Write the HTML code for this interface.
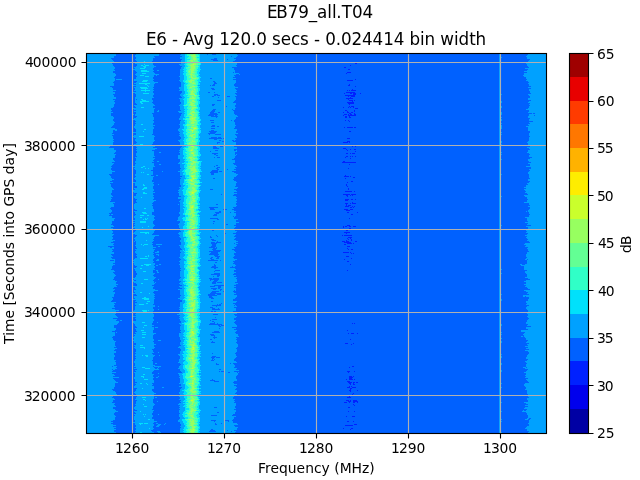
<!DOCTYPE html>
<html lang="en">
<head>
<meta charset="utf-8">
<title>EB79_all.T04 - E6 spectrogram</title>
<style>
html,body{margin:0;padding:0;background:#fff;overflow:hidden}
body{width:640px;height:480px}
svg{display:block;position:absolute;left:0;top:0}
text{white-space:pre}
</style>
</head>
<body>
<svg width="640" height="480" viewBox="0 0 640 480" role="img" aria-label="E6 spectrogram of EB79_all.T04">
<rect width="640" height="480" fill="#fff"/>
<g shape-rendering="crispEdges" stroke-width="1" transform="translate(0,0.5)">
<rect x="87" y="53.5" width="459" height="379" fill="#0061ff"/>
<path stroke="#0021ff" d="M355 63h2M350 65h1M344 67h2M348 69h2M347 72h4M346 73h1M355 79h1M347 80h6M349 84h1M348 85h2M355 86h1M352 89h1M347 90h1M349 90h1M351 90h5M346 92h9M344 93h1M350 93h2M353 93h3M360 93h1M353 94h3M345 95h10M348 96h1M351 96h4M350 97h1M346 98h7M348 99h1M349 100h4M354 100h1M352 101h1M347 102h7M348 103h6M349 104h1M349 106h1M351 106h3M343 107h1M348 107h1M350 107h1M353 107h1M355 108h3M345 110h2M354 110h1M347 111h1M354 111h1M343 112h1M347 112h2M351 112h2M349 113h2M354 113h1M344 114h3M348 114h1M350 114h2M354 114h2M343 115h1M348 115h8M345 116h2M349 116h1M345 117h2M349 117h2M345 120h1M348 120h1M349 121h1M344 127h1M347 127h6M354 127h2M349 131h2M347 138h3M347 141h3M343 142h5M349 142h1M352 145h1M352 146h1M355 146h1M343 148h3M346 149h1M350 149h1M354 149h2M347 150h1M355 151h1M346 153h2M350 153h1M352 153h3M346 156h2M350 156h1M352 156h1M355 156h1M345 157h1M350 158h1M343 161h2M342 162h14M349 164h1M348 168h1M345 175h1M344 176h5M350 176h1M353 177h2M345 178h1M351 181h2M347 182h1M346 184h1M346 185h1M347 186h1M348 188h1M348 189h1M345 191h7M354 191h1M343 194h7M351 194h5M346 195h2M350 195h1M352 195h1M347 196h1M345 199h4M351 199h2M355 199h1M345 200h3M352 202h1M345 203h3M350 203h1M352 203h4M346 204h1M346 205h1M348 205h3M345 206h4M352 206h1M354 206h1M350 207h2M353 207h1M344 209h4M350 209h3M346 210h4M347 212h2M357 212h1M351 214h2M349 218h1M347 225h3M343 226h1M345 226h2M349 226h2M353 226h3M343 227h1M349 228h2M345 229h1M347 229h2M350 229h1M346 230h2M344 232h6M346 233h1M342 235h1M344 235h8M348 237h4M347 238h1M350 238h1M348 239h1M351 239h1M346 240h1M351 240h1M342 241h3M346 241h3M355 241h2M344 242h7M347 243h5M353 243h1M344 244h2M347 246h3M347 248h1M348 249h1M351 249h2M343 252h6M350 252h1M351 253h1M353 253h1M346 256h3M351 258h1M344 259h1M347 261h2M350 264h1M347 270h1M352 323h1M354 323h1M347 330h1M348 333h1M351 333h3M357 333h1M350 339h1M345 343h3M353 343h1M351 344h1M352 366h2M349 367h1M347 371h3M354 371h1M348 372h1M349 376h3M353 376h1M349 377h4M349 378h3M346 379h1M349 379h4M354 379h1M347 381h3M348 382h4M353 382h2M356 382h2M349 383h2M353 383h1M350 384h1M353 384h2M349 386h1M351 386h1M347 387h3M352 387h4M350 388h2M350 389h1M349 390h2M357 390h1M350 391h1M353 393h1M352 394h1M348 395h1M349 396h1M347 397h4M346 400h3M350 400h1M353 400h4M348 401h3M353 401h5M344 402h3M349 402h1M353 402h2M357 402h1M353 404h1M354 405h1M348 407h2M348 411h1M354 411h1M346 416h1M352 416h3M347 421h2M353 421h1M354 424h3M345 425h8M343 428h1M351 428h2M350 429h1"/>
<path stroke="#00a1ff" d="M87 54h29M136 54h23M181 54h26M208 54h4M216 54h21M528 54h18M87 55h29M135 55h24M180 55h58M527 55h19M87 56h27M135 56h19M182 56h49M232 56h5M526 56h20M87 57h27M136 57h19M180 57h56M527 57h19M87 58h24M136 58h17M180 58h34M217 58h17M527 58h19M87 59h25M135 59h18M182 59h29M217 59h10M228 59h8M530 59h16M87 60h26M136 60h17M181 60h32M218 60h17M529 60h17M87 61h27M137 61h15M181 61h52M528 61h18M87 62h25M135 62h19M181 62h33M216 62h21M526 62h1M528 62h18M87 63h25M135 63h18M181 63h56M526 63h20M87 64h26M137 64h16M179 64h58M527 64h19M87 65h26M137 65h17M180 65h56M527 65h19M87 66h27M136 66h20M182 66h55M528 66h18M87 67h28M134 67h20M181 67h51M529 67h17M87 68h28M135 68h18M181 68h53M525 68h21M87 69h27M133 69h20M180 69h54M528 69h18M87 70h28M135 70h19M157 70h2M180 70h55M527 70h19M87 71h26M136 71h17M180 71h55M524 71h22M87 72h26M137 72h17M180 72h53M234 72h1M527 72h19M87 73h28M136 73h19M180 73h59M524 73h22M87 74h29M135 74h24M180 74h56M239 74h1M524 74h22M87 75h29M136 75h18M156 75h1M180 75h54M523 75h23M87 76h28M137 76h17M179 76h56M524 76h22M87 77h27M136 77h17M180 77h53M526 77h20M87 78h28M136 78h17M180 78h30M212 78h24M526 78h20M87 79h28M116 79h6M134 79h20M180 79h53M527 79h19M87 80h28M134 80h19M179 80h57M526 80h20M87 81h27M137 81h17M180 81h33M215 81h21M528 81h18M87 82h26M136 82h22M181 82h33M216 82h20M529 82h17M87 83h27M134 83h21M181 83h33M217 83h18M528 83h18M87 84h27M136 84h18M181 84h32M215 84h19M529 84h17M87 85h27M133 85h21M181 85h29M211 85h1M215 85h19M529 85h17M87 86h23M136 86h18M181 86h54M531 86h15M87 87h25M134 87h19M179 87h59M528 87h18M87 88h26M135 88h19M179 88h32M214 88h21M531 88h15M87 89h26M135 89h18M180 89h32M215 89h21M529 89h17M87 90h29M134 90h20M179 90h58M529 90h17M87 91h26M136 91h17M182 91h54M530 91h16M87 92h28M133 92h20M182 92h26M210 92h4M215 92h22M530 92h16M87 93h28M135 93h19M181 93h54M531 93h15M87 94h26M136 94h18M180 94h34M218 94h18M528 94h18M87 95h27M136 95h17M180 95h34M216 95h1M220 95h17M529 95h17M87 96h27M136 96h17M181 96h31M214 96h13M230 96h5M530 96h16M87 97h29M135 97h19M182 97h36M219 97h17M530 97h16M87 98h29M135 98h17M179 98h57M528 98h18M87 99h26M135 99h1M137 99h15M180 99h56M528 99h18M87 100h28M135 100h18M180 100h37M221 100h14M531 100h15M87 101h27M135 101h18M180 101h54M529 101h17M87 102h28M135 102h17M181 102h52M528 102h18M87 103h28M136 103h17M181 103h55M530 103h16M87 104h27M137 104h17M180 104h32M215 104h21M529 104h17M87 105h27M134 105h21M179 105h33M214 105h21M530 105h16M87 106h27M135 106h18M180 106h46M227 106h8M529 106h17M87 107h26M136 107h17M180 107h56M529 107h17M87 108h24M133 108h22M180 108h55M528 108h18M87 109h24M134 109h20M180 109h33M216 109h16M233 109h2M526 109h20M87 110h25M136 110h18M158 110h1M181 110h31M215 110h18M529 110h17M87 111h24M134 111h20M157 111h2M178 111h33M215 111h19M529 111h17M87 112h26M136 112h18M179 112h31M214 112h4M220 112h14M528 112h18M87 113h24M136 113h16M182 113h28M217 113h17M532 113h1M535 113h11M87 114h24M133 114h1M135 114h18M181 114h28M218 114h17M529 114h17M87 115h24M135 115h18M181 115h27M214 115h1M217 115h20M529 115h5M535 115h11M87 116h26M137 116h16M180 116h31M218 116h20M528 116h18M87 117h27M136 117h18M180 117h36M217 117h19M528 117h18M87 118h27M134 118h20M179 118h57M530 118h16M87 119h26M133 119h21M179 119h56M529 119h17M87 120h26M135 120h18M181 120h29M214 120h17M232 120h2M529 120h17M87 121h27M136 121h18M180 121h54M533 121h13M87 122h28M135 122h19M180 122h31M214 122h21M529 122h17M87 123h27M136 123h17M180 123h55M530 123h16M87 124h27M135 124h18M179 124h56M528 124h18M87 125h26M135 125h20M180 125h32M215 125h21M529 125h17M87 126h25M134 126h19M180 126h31M215 126h2M219 126h16M526 126h20M87 127h24M134 127h20M180 127h55M528 127h18M87 128h28M135 128h19M179 128h32M215 128h19M528 128h18M87 129h30M136 129h17M178 129h59M528 129h18M87 130h26M115 130h2M136 130h17M178 130h33M214 130h23M528 130h18M87 131h26M136 131h17M179 131h30M217 131h19M530 131h16M87 132h26M132 132h21M180 132h30M216 132h20M530 132h16M87 133h25M136 133h17M179 133h29M215 133h23M529 133h17M87 134h27M136 134h16M180 134h29M210 134h5M221 134h14M529 134h17M87 135h25M134 135h20M179 135h57M529 135h17M87 136h26M133 136h22M180 136h57M530 136h16M87 137h26M134 137h20M181 137h30M217 137h1M221 137h16M529 137h17M87 138h26M136 138h18M181 138h28M222 138h1M224 138h11M529 138h17M87 139h27M135 139h19M180 139h34M217 139h19M529 139h17M87 140h26M135 140h20M178 140h41M221 140h11M234 140h1M529 140h17M87 141h27M136 141h18M179 141h43M225 141h8M528 141h18M87 142h26M137 142h16M180 142h37M220 142h16M527 142h19M87 143h26M136 143h17M180 143h37M218 143h18M528 143h18M87 144h26M134 144h18M180 144h56M528 144h18M87 145h25M135 145h19M182 145h31M217 145h5M223 145h12M529 145h17M87 146h23M136 146h19M182 146h31M216 146h4M223 146h11M530 146h16M87 147h22M137 147h16M181 147h32M217 147h20M527 147h19M87 148h27M136 148h21M180 148h33M219 148h18M529 148h17M87 149h27M137 149h18M180 149h54M530 149h16M87 150h29M136 150h16M179 150h36M218 150h16M236 150h1M528 150h18M87 151h29M137 151h17M180 151h30M211 151h26M528 151h18M87 152h28M137 152h17M159 152h2M179 152h56M527 152h19M87 153h27M136 153h18M180 153h32M218 153h17M529 153h17M87 154h29M136 154h18M180 154h34M216 154h19M236 154h1M530 154h16M87 155h28M136 155h18M178 155h38M218 155h18M529 155h17M87 156h28M137 156h18M178 156h57M529 156h17M87 157h28M135 157h18M178 157h36M215 157h2M220 157h15M532 157h14M87 158h26M136 158h19M178 158h56M530 158h16M87 159h26M136 159h18M180 159h52M528 159h18M87 160h27M136 160h17M180 160h55M528 160h18M87 161h28M135 161h19M157 161h2M180 161h55M529 161h17M87 162h25M135 162h17M179 162h56M531 162h15M87 163h27M136 163h18M178 163h55M528 163h18M87 164h26M135 164h19M159 164h2M180 164h54M530 164h16M87 165h25M135 165h19M180 165h36M218 165h18M530 165h16M87 166h24M132 166h23M180 166h34M215 166h22M526 166h20M87 167h25M135 167h18M180 167h37M220 167h15M531 167h15M87 168h24M134 168h19M181 168h35M218 168h18M531 168h15M87 169h24M135 169h18M180 169h37M219 169h8M228 169h6M529 169h17M87 170h25M136 170h15M180 170h32M218 170h18M530 170h16M87 171h28M136 171h17M162 171h1M178 171h33M218 171h1M222 171h10M529 171h17M87 172h25M136 172h17M180 172h30M218 172h16M528 172h18M87 173h25M136 173h17M180 173h31M214 173h22M528 173h18M87 174h22M135 174h18M180 174h31M214 174h24M529 174h17M87 175h23M135 175h16M156 175h2M180 175h57M529 175h17M87 176h24M136 176h18M182 176h54M529 176h17M87 177h24M135 177h18M180 177h54M529 177h17M87 178h25M134 178h19M181 178h32M215 178h19M530 178h16M87 179h27M135 179h18M180 179h53M528 179h18M87 180h25M136 180h16M180 180h54M528 180h18M87 181h23M136 181h16M180 181h56M530 181h16M87 182h26M133 182h21M180 182h57M529 182h17M87 183h23M135 183h18M180 183h56M527 183h19M87 184h24M135 184h19M158 184h1M180 184h56M528 184h18M87 185h24M135 185h19M181 185h55M526 185h20M87 186h24M137 186h16M181 186h54M526 186h20M87 187h25M137 187h16M179 187h59M524 187h22M87 188h26M134 188h19M180 188h57M526 188h20M87 189h27M135 189h19M179 189h31M213 189h21M524 189h22M87 190h25M133 190h21M178 190h58M525 190h21M87 191h25M133 191h20M179 191h58M526 191h20M87 192h25M134 192h21M178 192h56M525 192h21M87 193h24M137 193h16M179 193h58M527 193h19M87 194h24M136 194h17M179 194h42M222 194h12M528 194h18M87 195h25M136 195h18M179 195h54M524 195h22M87 196h26M134 196h19M181 196h55M525 196h21M87 197h24M134 197h20M178 197h59M527 197h19M87 198h25M135 198h19M178 198h58M527 198h19M87 199h24M137 199h16M181 199h56M528 199h18M87 200h24M136 200h20M180 200h57M527 200h19M87 201h23M136 201h18M179 201h57M527 201h19M87 202h28M137 202h16M180 202h57M524 202h22M87 203h26M135 203h17M180 203h56M529 203h17M87 204h27M134 204h19M178 204h1M180 204h36M218 204h18M529 204h17M87 205h27M134 205h18M180 205h57M530 205h16M87 206h27M134 206h19M180 206h56M528 206h18M87 207h24M134 207h19M180 207h29M218 207h15M530 207h16M87 208h23M134 208h19M180 208h30M214 208h20M530 208h16M87 209h24M135 209h19M180 209h30M215 209h8M227 209h5M529 209h17M87 210h25M137 210h17M180 210h54M528 210h18M87 211h25M134 211h20M180 211h39M221 211h15M526 211h1M528 211h18M87 212h24M135 212h17M179 212h36M221 212h9M231 212h3M529 212h17M87 213h22M135 213h17M179 213h37M219 213h17M529 213h17M87 214h23M111 214h2M136 214h16M180 214h34M217 214h19M530 214h16M87 215h22M135 215h19M180 215h33M217 215h19M529 215h17M87 216h25M134 216h21M179 216h54M234 216h1M529 216h17M87 217h25M134 217h20M178 217h56M525 217h21M87 218h28M135 218h19M178 218h32M218 218h16M527 218h19M87 219h27M135 219h20M178 219h39M219 219h19M527 219h19M87 220h27M133 220h21M177 220h59M527 220h19M87 221h25M135 221h18M180 221h33M215 221h21M528 221h18M87 222h25M133 222h20M180 222h59M525 222h21M87 223h25M135 223h18M179 223h34M214 223h22M528 223h18M87 224h24M134 224h20M178 224h48M228 224h8M527 224h19M87 225h26M135 225h20M179 225h55M531 225h15M87 226h27M134 226h20M179 226h57M526 226h20M87 227h24M132 227h21M179 227h56M528 227h18M87 228h26M135 228h18M180 228h54M528 228h18M87 229h26M134 229h21M157 229h4M180 229h57M527 229h19M87 230h25M136 230h19M180 230h32M214 230h21M526 230h20M87 231h26M135 231h19M181 231h56M527 231h19M87 232h26M134 232h20M179 232h57M526 232h20M87 233h25M133 233h20M178 233h47M226 233h7M528 233h18M87 234h27M135 234h17M179 234h57M527 234h19M87 235h26M137 235h22M180 235h36M217 235h18M525 235h21M87 236h25M136 236h19M179 236h31M211 236h6M218 236h16M527 236h19M87 237h26M135 237h19M180 237h30M212 237h24M526 237h20M87 238h26M134 238h20M181 238h54M527 238h19M87 239h25M135 239h18M181 239h30M214 239h20M528 239h18M87 240h28M135 240h19M180 240h32M216 240h20M527 240h19M87 241h26M134 241h1M136 241h17M180 241h37M218 241h20M529 241h17M87 242h24M136 242h16M181 242h30M215 242h1M221 242h15M530 242h16M87 243h27M136 243h17M181 243h30M217 243h17M235 243h3M525 243h21M87 244h26M136 244h16M156 244h6M181 244h31M216 244h20M524 244h22M87 245h27M135 245h18M179 245h33M216 245h21M526 245h20M87 246h21M136 246h17M158 246h2M180 246h31M216 246h20M525 246h21M87 247h23M112 247h2M136 247h20M180 247h29M215 247h1M217 247h17M528 247h18M87 248h27M137 248h16M181 248h32M217 248h18M527 248h19M87 249h25M135 249h20M182 249h30M216 249h16M528 249h18M87 250h26M136 250h18M180 250h33M221 250h13M528 250h18M87 251h25M135 251h19M157 251h2M180 251h29M220 251h15M529 251h17M87 252h27M135 252h18M155 252h4M181 252h30M218 252h18M527 252h19M87 253h27M136 253h18M180 253h30M218 253h16M527 253h19M87 254h24M137 254h16M156 254h3M180 254h29M219 254h15M526 254h20M87 255h25M136 255h18M158 255h1M180 255h34M218 255h17M526 255h20M87 256h26M137 256h17M180 256h35M220 256h14M526 256h20M87 257h24M137 257h18M179 257h32M213 257h4M219 257h14M527 257h19M87 258h25M135 258h19M180 258h30M212 258h4M219 258h15M526 258h20M87 259h28M134 259h19M157 259h2M181 259h30M214 259h23M525 259h2M528 259h18M87 260h23M114 260h1M133 260h20M156 260h3M180 260h28M218 260h2M221 260h14M527 260h19M87 261h28M134 261h20M179 261h54M527 261h19M87 262h28M133 262h20M180 262h35M217 262h17M527 262h19M87 263h26M134 263h21M180 263h53M527 263h19M87 264h28M134 264h21M159 264h2M179 264h35M215 264h20M520 264h2M525 264h21M87 265h26M135 265h19M156 265h2M180 265h34M216 265h20M521 265h25M87 266h25M137 266h18M180 266h32M216 266h16M233 266h2M524 266h22M87 267h25M136 267h19M180 267h31M218 267h12M524 267h22M87 268h25M134 268h20M181 268h33M216 268h19M524 268h22M87 269h24M135 269h20M180 269h56M524 269h22M87 270h27M135 270h18M156 270h2M181 270h34M220 270h14M527 270h19M87 271h28M136 271h17M157 271h1M180 271h34M215 271h19M525 271h21M87 272h26M136 272h17M157 272h2M180 272h56M525 272h21M87 273h27M137 273h18M180 273h34M220 273h14M526 273h20M87 274h28M137 274h17M180 274h31M220 274h13M527 274h19M87 275h29M136 275h17M180 275h37M220 275h16M527 275h19M87 276h28M136 276h18M180 276h33M214 276h3M219 276h15M527 276h19M87 277h27M135 277h21M181 277h56M525 277h21M87 278h27M133 278h22M180 278h29M212 278h1M219 278h17M528 278h18M87 279h26M134 279h20M158 279h1M179 279h31M219 279h18M530 279h16M87 280h28M133 280h1M136 280h17M179 280h31M211 280h3M218 280h19M526 280h20M87 281h30M133 281h21M181 281h32M217 281h20M524 281h22M87 282h29M134 282h20M155 282h1M180 282h32M216 282h1M222 282h13M526 282h20M87 283h29M136 283h19M179 283h33M216 283h22M526 283h20M87 284h31M137 284h17M180 284h56M524 284h22M87 285h29M137 285h15M182 285h32M224 285h10M526 285h20M87 286h30M133 286h21M179 286h31M215 286h3M221 286h15M525 286h21M87 287h27M135 287h18M180 287h38M221 287h13M527 287h19M87 288h26M135 288h18M182 288h29M217 288h1M220 288h16M528 288h18M87 289h28M136 289h19M178 289h35M216 289h4M222 289h14M530 289h16M87 290h27M134 290h24M180 290h40M221 290h13M235 290h1M524 290h22M87 291h26M134 291h20M180 291h32M219 291h4M224 291h9M526 291h20M87 292h28M135 292h18M180 292h31M216 292h18M528 292h18M87 293h28M133 293h21M180 293h30M221 293h15M527 293h19M87 294h27M136 294h19M180 294h28M215 294h2M221 294h13M529 294h17M87 295h27M137 295h17M181 295h27M217 295h20M523 295h23M87 296h27M134 296h21M180 296h29M212 296h25M523 296h2M526 296h20M87 297h25M134 297h20M180 297h29M213 297h23M529 297h17M87 298h26M135 298h20M178 298h33M214 298h21M529 298h17M87 299h26M133 299h21M180 299h53M528 299h18M87 300h25M136 300h18M182 300h51M528 300h18M87 301h24M135 301h19M182 301h29M213 301h24M526 301h20M87 302h29M137 302h17M180 302h56M526 302h20M87 303h27M135 303h19M180 303h41M222 303h11M527 303h19M87 304h28M135 304h18M180 304h37M218 304h1M221 304h14M526 304h20M87 305h27M136 305h19M180 305h32M221 305h13M235 305h1M529 305h17M87 306h27M135 306h20M158 306h1M180 306h36M217 306h20M527 306h19M87 307h28M135 307h18M179 307h31M213 307h21M526 307h20M87 308h25M135 308h18M180 308h32M215 308h3M219 308h17M526 308h20M87 309h28M135 309h19M158 309h1M179 309h33M220 309h16M527 309h19M87 310h32M134 310h20M180 310h56M528 310h18M87 311h29M133 311h20M180 311h31M213 311h1M216 311h17M528 311h18M87 312h29M135 312h20M179 312h32M216 312h20M528 312h18M87 313h29M136 313h17M179 313h58M527 313h19M87 314h28M135 314h19M177 314h36M218 314h16M528 314h18M87 315h29M136 315h18M180 315h55M528 315h18M87 316h30M132 316h22M179 316h58M527 316h19M87 317h31M136 317h17M180 317h35M216 317h20M528 317h18M87 318h26M135 318h18M179 318h55M529 318h17M87 319h30M136 319h18M180 319h32M217 319h17M528 319h18M87 320h29M120 320h2M136 320h18M180 320h30M211 320h25M527 320h19M87 321h32M133 321h20M181 321h31M214 321h21M527 321h19M87 322h32M133 322h20M157 322h1M181 322h33M215 322h19M526 322h20M87 323h31M134 323h18M179 323h31M215 323h2M218 323h17M526 323h20M87 324h30M135 324h17M180 324h29M222 324h14M528 324h18M87 325h27M135 325h19M181 325h37M220 325h1M224 325h13M527 325h19M87 326h27M136 326h16M180 326h39M221 326h16M531 326h15M87 327h27M137 327h17M155 327h3M180 327h52M526 327h20M87 328h29M135 328h19M180 328h39M220 328h16M526 328h20M87 329h29M136 329h18M180 329h54M528 329h18M87 330h28M136 330h17M181 330h56M521 330h25M87 331h25M137 331h16M180 331h34M219 331h17M521 331h25M87 332h28M116 332h1M135 332h18M181 332h31M220 332h15M525 332h21M87 333h28M136 333h20M179 333h57M524 333h22M87 334h28M134 334h20M179 334h31M214 334h24M523 334h23M87 335h28M135 335h18M179 335h32M215 335h23M524 335h22M87 336h26M134 336h19M179 336h35M215 336h24M521 336h2M524 336h22M87 337h25M133 337h20M180 337h33M217 337h19M525 337h21M87 338h26M134 338h19M180 338h34M215 338h22M526 338h20M87 339h26M134 339h20M180 339h30M212 339h24M526 339h20M87 340h27M132 340h22M158 340h3M181 340h56M528 340h18M87 341h29M134 341h19M181 341h31M213 341h24M527 341h19M87 342h28M134 342h20M180 342h31M215 342h21M526 342h20M87 343h28M136 343h18M180 343h57M529 343h17M87 344h28M136 344h20M180 344h58M527 344h19M87 345h28M134 345h20M181 345h57M528 345h18M87 346h29M135 346h19M179 346h59M525 346h21M87 347h27M134 347h21M178 347h59M528 347h18M87 348h30M135 348h19M180 348h56M526 348h20M87 349h28M136 349h16M181 349h56M529 349h17M87 350h27M136 350h17M181 350h56M525 350h21M87 351h29M136 351h17M180 351h57M528 351h18M87 352h29M135 352h19M158 352h1M180 352h56M529 352h17M87 353h27M136 353h16M180 353h32M213 353h22M529 353h17M87 354h27M135 354h18M178 354h58M528 354h18M87 355h28M135 355h20M159 355h1M179 355h57M527 355h19M87 356h28M136 356h18M180 356h32M216 356h21M527 356h19M87 357h27M135 357h18M180 357h31M215 357h1M220 357h16M526 357h20M87 358h27M136 358h17M180 358h32M214 358h21M526 358h20M87 359h27M135 359h18M179 359h33M213 359h1M215 359h19M528 359h18M87 360h29M135 360h17M179 360h32M214 360h20M527 360h19M87 361h28M134 361h19M179 361h57M525 361h21M87 362h29M134 362h19M178 362h59M526 362h20M87 363h29M135 363h18M155 363h2M180 363h36M217 363h13M231 363h2M527 363h19M87 364h29M135 364h18M181 364h35M219 364h15M526 364h20M87 365h27M135 365h20M180 365h55M526 365h20M87 366h25M113 366h4M134 366h19M154 366h7M179 366h56M526 366h20M87 367h29M136 367h18M158 367h1M179 367h55M523 367h3M527 367h19M87 368h30M134 368h21M157 368h1M178 368h59M525 368h21M87 369h25M113 369h2M137 369h22M180 369h39M221 369h15M528 369h18M87 370h26M135 370h19M180 370h59M527 370h19M87 371h25M136 371h17M181 371h38M220 371h1M224 371h10M526 371h20M87 372h29M134 372h18M182 372h46M230 372h7M238 372h1M524 372h22M87 373h25M135 373h17M158 373h1M178 373h60M526 373h20M87 374h27M135 374h19M179 374h59M526 374h20M87 375h28M135 375h18M179 375h58M525 375h21M87 376h26M135 376h18M158 376h1M180 376h56M526 376h20M87 377h32M134 377h20M156 377h2M179 377h57M525 377h21M87 378h26M134 378h19M180 378h56M528 378h18M87 379h27M135 379h18M180 379h32M213 379h24M526 379h20M87 380h28M135 380h19M180 380h30M215 380h22M527 380h19M87 381h29M135 381h19M180 381h34M219 381h15M528 381h18M87 382h31M137 382h17M180 382h53M529 382h17M87 383h28M135 383h17M179 383h55M525 383h21M87 384h28M136 384h17M181 384h56M524 384h22M87 385h28M135 385h17M181 385h53M524 385h22M87 386h28M134 386h20M179 386h57M525 386h21M87 387h27M134 387h20M162 387h2M182 387h55M526 387h20M87 388h27M137 388h17M181 388h55M526 388h20M87 389h25M136 389h16M180 389h55M525 389h21M87 390h26M136 390h16M180 390h57M527 390h19M87 391h28M135 391h18M180 391h57M527 391h19M87 392h29M134 392h20M179 392h57M527 392h19M87 393h29M135 393h21M179 393h56M527 393h19M87 394h30M136 394h18M180 394h57M528 394h18M87 395h28M138 395h16M178 395h58M528 395h18M87 396h26M137 396h17M179 396h55M528 396h18M87 397h25M136 397h18M155 397h2M180 397h53M529 397h17M87 398h27M136 398h18M180 398h53M527 398h19M87 399h28M135 399h18M179 399h56M527 399h19M87 400h26M137 400h16M181 400h53M528 400h18M87 401h26M136 401h17M157 401h1M180 401h55M528 401h18M87 402h25M136 402h17M181 402h53M524 402h22M87 403h28M136 403h18M179 403h57M526 403h20M87 404h27M135 404h20M178 404h58M528 404h18M87 405h28M136 405h18M180 405h56M525 405h21M87 406h29M135 406h18M179 406h56M528 406h18M87 407h26M134 407h19M180 407h34M217 407h18M525 407h21M87 408h26M134 408h19M179 408h57M524 408h22M87 409h28M135 409h17M180 409h54M527 409h19M87 410h29M137 410h17M179 410h57M523 410h1M526 410h20M87 411h31M134 411h19M179 411h57M522 411h24M87 412h28M135 412h18M179 412h38M219 412h16M526 412h20M87 413h27M136 413h16M180 413h55M527 413h19M87 414h27M134 414h18M158 414h1M179 414h54M527 414h19M87 415h28M135 415h18M179 415h32M217 415h15M528 415h18M87 416h29M134 416h19M179 416h57M528 416h18M87 417h28M134 417h18M180 417h54M528 417h18M87 418h28M134 418h18M180 418h54M527 418h2M531 418h15M87 419h28M134 419h20M179 419h54M525 419h3M530 419h16M87 420h26M135 420h19M178 420h33M216 420h8M229 420h3M529 420h17M87 421h24M135 421h22M178 421h36M215 421h13M229 421h4M529 421h17M87 422h26M132 422h22M180 422h53M529 422h17M87 423h24M135 423h18M156 423h2M165 423h1M180 423h35M216 423h5M222 423h15M528 423h18M87 424h26M135 424h19M158 424h3M164 424h1M181 424h34M217 424h21M529 424h17M87 425h29M136 425h18M157 425h3M181 425h53M529 425h17M87 426h26M136 426h17M156 426h3M180 426h55M527 426h19M87 427h29M135 427h18M181 427h57M526 427h20M87 428h27M136 428h18M180 428h57M525 428h21M87 429h29M136 429h17M180 429h31M213 429h24M527 429h19M87 430h27M135 430h16M180 430h30M215 430h12M228 430h6M527 430h19M87 431h27M136 431h16M157 431h3M180 431h29M216 431h15M232 431h4M529 431h17M87 432h29M135 432h19M158 432h3M180 432h55M528 432h18"/>
<path stroke="#00e1fb" d="M185 54h15M185 55h15M185 56h15M185 57h15M185 58h15M185 59h15M185 60h15M144 61h1M185 61h15M145 62h1M185 62h16M185 63h16M144 64h1M184 64h17M141 65h2M145 65h4M185 65h15M143 66h3M185 66h15M144 67h2M184 67h16M140 68h5M184 68h16M183 69h18M141 70h6M184 70h16M141 71h8M183 71h17M184 72h15M142 73h4M183 73h16M183 74h17M140 75h4M184 75h15M145 76h4M184 76h16M184 77h17M184 78h16M184 79h16M143 80h5M183 80h17M142 81h5M183 81h18M184 82h15M139 83h11M185 83h15M145 84h2M184 84h16M147 85h1M184 85h14M148 86h1M184 86h16M140 87h7M184 87h15M141 88h7M184 88h16M145 89h1M184 89h16M141 90h9M184 90h16M145 91h1M185 91h14M185 92h14M143 93h6M185 93h14M184 94h15M183 95h17M184 96h15M185 97h15M184 98h16M141 99h2M183 99h17M142 100h4M184 100h15M140 101h9M184 101h16M140 102h2M184 102h16M141 103h2M184 103h16M184 104h15M183 105h16M184 106h15M141 107h3M184 107h16M184 108h16M185 109h15M184 110h15M185 111h14M184 112h16M185 113h14M184 114h16M184 115h15M184 116h16M185 117h15M183 118h17M183 119h18M185 120h16M184 121h16M185 122h15M185 123h16M141 124h2M183 124h18M183 125h17M184 126h16M184 127h16M184 128h17M144 129h2M182 129h18M183 130h18M143 131h1M184 131h17M183 132h18M183 133h17M184 134h15M184 135h15M139 136h5M184 136h16M185 137h15M184 138h15M184 139h15M183 140h17M184 141h16M184 142h15M184 143h15M140 144h3M184 144h15M143 145h1M186 145h14M186 146h13M184 147h16M183 148h17M184 149h16M183 150h17M183 151h16M183 152h17M183 153h17M183 154h18M184 155h17M184 156h16M183 157h16M183 158h17M185 159h14M184 160h14M185 161h17M184 162h17M182 163h19M185 164h16M184 165h17M143 166h2M184 166h16M141 167h2M184 167h17M145 168h1M148 168h1M185 168h15M184 169h17M183 170h18M182 171h20M141 172h1M143 172h1M184 172h16M183 173h17M147 174h2M183 174h17M185 175h16M185 176h16M185 177h15M186 178h15M184 179h15M184 180h16M184 181h16M184 182h18M183 183h17M143 184h1M183 184h16M143 185h2M185 185h16M184 186h16M144 187h3M183 187h16M143 188h4M184 188h16M142 189h2M183 189h16M182 190h19M183 191h17M143 192h2M183 192h17M143 193h4M183 193h16M183 194h16M184 195h15M185 196h14M141 197h1M184 197h16M184 198h16M184 199h16M184 200h16M184 201h15M183 202h16M183 203h17M184 204h16M183 205h15M184 206h16M185 207h14M144 208h2M183 208h17M184 209h14M184 210h15M184 211h17M142 212h4M184 212h16M143 213h4M183 213h15M183 214h16M140 215h4M147 215h2M185 215h15M185 216h14M140 217h2M183 217h17M145 218h1M147 218h1M182 218h18M143 219h1M145 219h2M183 219h17M183 220h17M140 221h6M185 221h15M140 222h6M185 222h15M184 223h15M185 224h15M184 225h16M148 226h1M183 226h16M142 227h1M183 227h17M183 228h16M141 229h6M183 229h18M184 230h15M184 231h15M140 232h9M183 232h18M145 233h2M148 233h1M183 233h17M183 234h17M183 235h15M183 236h17M186 237h14M184 238h17M184 239h16M146 240h1M184 240h15M184 241h16M185 242h15M185 243h16M141 244h1M144 244h4M185 244h15M143 245h1M184 245h16M184 246h15M184 247h16M185 248h14M185 249h15M183 250h1M185 250h15M184 251h16M185 252h15M184 253h16M185 254h15M148 255h1M185 255h15M145 256h2M148 256h1M184 256h16M183 257h16M140 258h8M184 258h17M185 259h15M186 260h14M184 261h16M184 262h15M184 263h16M144 264h7M185 264h15M141 265h2M146 265h3M184 265h17M184 266h16M184 267h14M140 268h2M185 268h13M185 269h14M184 270h16M143 271h3M184 271h15M184 272h15M184 273h15M184 274h15M184 275h16M184 276h15M185 277h15M184 278h15M144 279h4M183 279h18M183 280h17M185 281h16M183 282h17M141 283h2M183 283h16M184 284h15M186 285h14M184 286h15M184 287h14M185 288h14M184 289h15M184 290h16M184 291h16M140 292h2M184 292h15M149 293h1M184 293h16M184 294h17M185 295h14M184 296h16M144 297h2M185 297h14M142 298h7M184 298h16M144 299h5M183 299h17M185 300h15M147 301h3M185 301h15M185 302h16M146 303h2M184 303h16M139 304h5M183 304h17M183 305h17M183 306h17M183 307h17M184 308h16M183 309h16M142 310h5M148 310h1M183 310h17M143 311h4M183 311h16M183 312h17M183 313h17M184 314h16M185 315h14M184 316h16M183 317h17M184 318h15M184 319h16M185 320h16M186 321h15M142 322h3M184 322h17M182 323h18M184 324h16M144 325h3M184 325h16M184 326h15M143 327h1M184 327h15M184 328h15M184 329h17M141 330h3M185 330h15M185 331h15M142 332h4M184 332h16M183 333h17M142 334h4M184 334h15M183 335h16M184 336h14M142 337h3M185 337h15M183 338h17M185 339h15M184 340h16M184 341h16M183 342h16M184 343h15M183 344h16M140 345h3M185 345h16M184 346h16M140 347h5M185 347h15M144 348h1M185 348h15M185 349h15M185 350h14M183 351h18M183 352h17M184 353h17M182 354h18M142 355h1M145 355h3M183 355h17M146 356h2M183 356h18M184 357h15M183 358h17M183 359h17M185 360h14M184 361h16M183 362h17M183 363h17M184 364h16M183 365h18M183 366h17M142 367h3M183 367h17M145 368h5M183 368h17M184 369h16M185 370h16M185 371h14M185 372h16M183 373h16M143 374h2M182 374h17M183 375h18M141 376h3M183 376h17M143 377h1M183 377h17M183 378h18M144 379h4M184 379h16M184 380h17M184 381h15M184 382h16M140 383h2M146 383h1M183 383h17M147 384h1M185 384h15M185 385h16M185 386h14M185 387h14M142 388h1M185 388h16M184 389h15M182 390h17M184 391h17M184 392h16M183 393h18M184 394h15M143 395h3M183 395h16M184 396h14M142 397h4M184 397h16M185 398h14M143 399h2M185 399h15M145 400h1M184 400h15M183 401h17M185 402h15M183 403h17M143 404h1M185 404h15M184 405h15M144 406h3M183 406h16M185 407h14M185 408h14M185 409h15M185 410h16M140 411h1M184 411h16M183 412h17M183 413h16M143 414h1M145 414h1M182 414h17M183 415h17M144 416h1M183 416h16M184 417h16M185 418h15M148 419h2M182 419h18M182 420h18M183 421h17M183 422h16M139 423h4M144 423h4M184 423h16M140 424h1M184 424h15M185 425h14M185 426h15M184 427h16M149 428h1M184 428h16M183 429h16M184 430h16M183 431h16M140 432h2M184 432h16"/>
<path stroke="#30ffc7" d="M187 54h11M187 55h12M189 56h10M188 57h9M187 58h12M190 59h9M187 60h11M187 61h12M188 62h10M187 63h13M186 64h14M187 65h11M188 66h11M186 67h12M186 68h12M187 69h10M186 70h12M186 71h11M187 72h10M186 73h11M186 74h12M186 75h12M187 76h10M187 77h12M187 78h12M187 79h11M186 80h11M185 81h13M186 82h12M188 83h10M187 84h11M186 85h11M187 86h11M187 87h10M187 88h11M188 89h10M187 90h11M187 91h11M188 92h9M188 93h9M186 94h11M188 95h11M187 96h11M189 97h10M187 98h12M187 99h10M187 100h10M187 101h11M187 102h11M187 103h11M186 104h12M184 105h13M188 106h9M187 107h11M187 108h11M188 109h8M187 110h10M187 111h11M187 112h12M187 113h11M187 114h11M187 115h11M186 116h12M189 117h10M186 118h13M185 119h13M187 120h13M187 121h12M187 122h11M187 123h11M186 124h13M185 125h12M187 126h11M187 127h11M187 128h12M186 129h12M186 130h12M186 131h13M187 132h12M186 133h12M186 134h12M187 135h11M187 136h11M188 137h10M187 138h9M186 139h12M186 140h12M186 141h12M187 142h10M185 143h12M187 144h10M188 145h10M188 146h9M188 147h10M185 148h13M186 149h11M186 150h12M187 151h11M185 152h13M186 153h12M187 154h11M186 155h13M187 156h10M186 157h11M186 158h12M187 159h11M186 160h11M188 161h12M188 162h11M186 163h13M187 164h11M187 165h11M187 166h12M186 167h12M187 168h11M186 169h13M185 170h14M185 171h15M186 172h12M186 173h13M186 174h12M189 175h10M189 176h10M187 177h11M189 178h9M186 179h11M185 180h14M187 181h12M186 182h14M188 183h10M186 184h11M188 185h12M188 186h11M188 187h10M187 188h11M187 189h10M186 190h13M186 191h13M186 192h12M186 193h12M185 194h12M187 195h11M188 196h10M187 197h12M187 198h11M186 199h12M186 200h11M186 201h11M186 202h11M186 203h12M187 204h11M186 205h11M186 206h12M187 207h11M187 208h11M187 209h9M186 210h10M186 211h13M186 212h12M185 213h12M185 214h12M188 215h11M188 216h9M186 217h12M186 218h12M186 219h12M185 220h13M189 221h9M187 222h11M187 223h11M187 224h11M187 225h10M186 226h11M187 227h11M187 228h10M187 229h12M188 230h10M187 231h10M185 232h13M186 233h13M185 234h12M185 235h11M186 236h13M188 237h11M187 238h12M187 239h11M186 240h12M186 241h13M188 242h11M188 243h11M187 244h11M187 245h11M186 246h11M187 247h10M189 248h9M188 249h10M188 250h10M186 251h12M188 252h11M186 253h12M188 254h10M188 255h10M187 256h11M187 257h11M186 258h11M187 259h12M187 260h11M187 261h10M187 262h10M186 263h12M188 264h10M187 265h12M187 266h11M186 267h11M186 268h11M187 269h11M187 270h12M188 271h10M188 272h9M188 273h9M187 274h11M187 275h11M187 276h10M187 277h12M187 278h11M185 279h14M186 280h12M187 281h12M185 282h13M187 283h10M186 284h11M188 285h10M188 286h10M186 287h11M187 288h11M186 289h12M186 290h12M186 291h13M187 292h11M187 293h11M187 294h12M188 295h10M187 296h10M186 297h11M187 298h11M185 299h12M186 300h12M187 301h11M187 302h12M186 303h12M187 304h11M186 305h13M187 306h11M185 307h14M187 308h11M186 309h11M186 310h11M186 311h11M185 312h12M185 313h13M187 314h10M188 315h9M187 316h11M186 317h12M188 318h9M186 319h12M188 320h10M188 321h12M187 322h11M185 323h13M185 324h13M187 325h11M187 326h10M187 327h10M187 328h11M187 329h12M187 330h11M189 331h9M187 332h12M186 333h11M187 334h10M186 335h12M186 336h11M187 337h11M187 338h11M188 339h10M186 340h12M187 341h12M187 342h10M187 343h10M186 344h11M187 345h11M187 346h11M188 347h11M186 348h12M188 349h11M187 350h11M186 351h13M187 352h10M188 353h11M186 354h12M187 355h11M187 356h11M186 357h11M186 358h11M186 359h13M186 360h12M187 361h11M188 362h11M188 363h11M187 364h11M185 365h12M185 366h12M185 367h13M186 368h12M187 369h12M187 370h12M188 371h10M188 372h11M186 373h11M186 374h11M186 375h13M185 376h12M185 377h13M186 378h13M187 379h12M188 380h11M187 381h11M186 382h13M186 383h13M186 384h12M187 385h11M188 386h9M189 387h8M188 388h11M187 389h10M185 390h13M186 391h13M187 392h11M187 393h12M186 394h11M187 395h11M187 396h10M187 397h11M187 398h11M186 399h13M187 400h10M186 401h12M188 402h11M186 403h12M187 404h11M186 405h12M187 406h10M186 407h11M189 408h9M189 409h8M186 410h13M187 411h9M186 412h12M185 413h13M187 414h10M185 415h11M185 416h12M188 417h9M188 418h11M185 419h13M186 420h12M187 421h11M187 422h10M186 423h12M187 424h11M186 425h11M187 426h11M187 427h12M188 428h10M186 429h12M186 430h12M187 431h11M186 432h12"/>
<path stroke="#63ff94" d="M190 54h6M189 55h7M191 56h6M191 57h5M191 58h6M191 59h6M189 60h8M190 61h8M189 62h8M190 63h8M188 64h10M189 65h7M190 66h8M188 67h8M190 68h6M189 69h7M188 70h8M188 71h7M188 72h8M189 73h6M188 74h7M190 75h6M189 76h7M189 77h8M191 78h7M190 79h6M188 80h7M188 81h7M189 82h7M190 83h6M189 84h7M188 85h6M190 86h7M189 87h6M189 88h6M191 89h5M189 90h7M189 91h7M190 92h6M190 93h5M189 94h6M191 95h6M190 96h6M190 97h6M189 98h7M189 99h6M189 100h6M189 101h7M188 102h8M190 103h5M189 104h6M189 105h7M191 106h4M190 107h7M189 108h7M191 109h4M190 110h5M190 111h5M190 112h7M189 113h7M188 114h9M191 115h6M189 116h7M190 117h7M189 118h7M189 119h7M190 120h7M189 121h8M189 122h8M190 123h7M187 124h10M187 125h9M191 126h6M189 127h8M191 128h7M188 129h9M189 130h7M190 131h7M188 132h9M190 133h2M194 133h2M190 134h6M189 135h7M189 136h7M191 137h5M189 138h6M189 139h6M188 140h7M190 141h6M189 142h7M187 143h8M188 144h8M190 145h7M190 146h5M189 147h7M188 148h9M189 149h5M188 150h7M189 151h7M190 152h6M189 153h6M189 154h7M190 155h7M189 156h6M188 157h6M188 158h9M190 159h5M189 160h5M191 161h6M190 162h8M188 163h8M190 164h6M190 165h6M188 166h9M189 167h7M188 168h8M190 169h7M190 170h7M190 171h8M189 172h7M189 173h7M189 174h7M190 175h6M190 176h7M191 177h5M191 178h6M188 179h7M188 180h8M189 181h8M188 182h10M189 183h6M190 184h5M190 185h8M190 186h7M189 187h7M188 188h8M190 189h6M190 190h7M188 191h9M188 192h8M189 193h6M189 194h6M190 195h5M191 196h5M189 197h7M190 198h6M190 199h5M190 200h6M189 201h7M189 202h6M188 203h9M189 204h6M189 205h6M189 206h6M189 207h8M189 208h7M188 209h6M190 210h5M189 211h5M189 212h7M188 213h7M188 214h7M190 215h7M190 216h5M189 217h7M189 218h7M188 219h8M188 220h8M190 221h7M190 222h6M189 223h7M190 224h5M196 224h1M190 225h5M189 226h6M189 227h8M189 228h6M190 229h6M189 230h6M188 231h6M187 232h9M188 233h8M188 234h7M189 235h6M189 236h5M195 236h2M190 237h7M190 238h7M190 239h6M190 240h5M190 241h6M192 242h5M192 243h6M190 244h7M188 245h9M189 246h6M190 247h4M190 248h6M190 249h6M190 250h6M189 251h7M190 252h7M190 253h7M191 254h5M189 255h7M190 256h1M192 256h4M188 257h7M189 258h6M189 259h8M190 260h6M188 261h7M189 262h6M188 263h8M190 264h5M190 265h7M188 266h8M188 267h7M189 268h6M190 269h5M189 270h6M190 271h5M189 272h6M189 273h7M189 274h8M189 275h7M189 276h6M189 277h7M189 278h6M189 279h8M190 280h6M191 281h5M188 282h6M190 283h5M190 284h5M190 285h6M189 286h8M190 287h5M189 288h7M188 289h8M188 290h7M189 291h7M190 292h6M189 293h7M189 294h8M190 295h6M190 296h5M188 297h8M189 298h7M188 299h6M188 300h8M190 301h6M189 302h9M188 303h8M189 304h7M189 305h7M188 306h7M190 307h6M190 308h6M187 309h8M189 310h7M189 311h6M188 312h8M188 313h7M189 314h6M189 315h6M188 316h8M191 317h5M189 318h5M189 319h7M190 320h7M191 321h7M190 322h6M189 323h6M188 324h6M190 325h5M189 326h6M189 327h6M191 328h4M190 329h6M190 330h7M190 331h6M189 332h7M189 333h7M190 334h6M189 335h6M188 336h7M189 337h6M189 338h1M191 338h5M189 339h8M189 340h7M188 341h7M189 342h6M189 343h7M188 344h8M189 345h8M191 346h6M191 347h7M187 348h9M189 349h8M190 350h7M189 351h8M190 352h5M191 353h6M189 354h8M189 355h8M190 356h7M188 357h7M188 358h7M188 359h9M189 360h8M190 361h6M190 362h7M190 363h6M190 364h5M189 365h6M189 366h6M189 367h7M188 368h7M189 369h7M189 370h6M190 371h5M190 372h6M190 373h6M190 374h5M190 375h6M189 376h6M187 377h9M190 378h6M191 379h6M190 380h6M190 381h6M190 382h7M188 383h7M189 384h6M190 385h7M191 386h5M191 387h4M190 388h7M190 389h5M189 390h7M190 391h7M189 392h8M188 393h1M191 393h5M190 394h6M189 395h8M190 396h5M190 397h7M188 398h8M190 399h8M189 400h6M188 401h7M189 402h8M190 403h7M190 404h6M189 405h7M189 406h6M189 407h6M190 408h6M190 409h6M190 410h7M189 411h6M189 412h6M187 413h7M188 414h6M188 415h6M189 416h5M190 417h5M190 418h7M187 419h8M189 420h7M188 421h9M189 422h6M189 423h8M189 424h7M188 425h6M189 426h1M191 426h6M190 427h6M190 428h5M188 429h8M189 430h8M190 431h5M189 432h8"/>
<path stroke="#97ff60" d="M193 54h2M191 55h4M192 56h4M193 57h2M193 58h3M193 59h3M190 60h3M194 60h1M191 61h2M191 62h5M193 63h3M191 64h5M190 65h4M191 66h4M191 67h4M191 68h4M190 69h4M191 70h3M189 71h1M191 71h2M191 72h3M191 73h1M190 74h3M191 75h1M193 75h1M191 76h1M191 77h2M192 78h4M191 79h1M190 80h4M189 81h3M190 82h2M193 82h1M192 83h3M192 86h3M190 87h2M194 89h1M192 90h1M191 91h3M191 92h2M191 93h3M190 94h5M194 95h2M192 96h1M192 97h2M190 98h5M192 100h2M192 101h3M190 102h2M191 103h3M190 104h3M191 105h4M192 107h4M192 108h2M191 109h2M192 111h2M191 112h4M190 113h2M191 114h3M192 115h2M190 116h3M191 117h5M190 118h5M190 119h5M191 120h5M192 121h2M191 122h4M191 123h3M192 125h2M191 127h5M193 128h4M190 129h2M193 129h2M191 130h3M192 131h1M192 132h1M192 134h3M190 135h3M191 136h2M193 137h2M192 140h1M192 141h3M191 142h1M189 143h1M190 144h3M191 145h2M191 146h3M193 147h1M192 148h1M191 149h2M190 150h3M191 152h3M191 153h3M193 154h1M193 155h2M189 157h4M190 158h2M193 158h2M191 159h2M190 160h2M192 161h3M193 162h3M191 163h3M191 164h2M190 166h2M193 166h2M192 167h3M190 168h5M191 169h5M191 170h5M193 171h4M192 172h3M191 173h2M191 175h4M191 176h4M192 177h2M192 178h4M190 179h4M190 180h3M191 181h3M194 182h1M190 183h4M191 184h3M194 185h2M192 187h2M192 188h3M193 189h2M192 190h5M191 191h5M189 192h6M191 193h3M190 194h2M193 194h1M192 196h2M192 197h1M192 198h3M193 199h1M192 200h3M191 201h1M193 201h2M191 202h2M189 203h3M190 205h4M190 206h4M190 207h4M190 208h3M189 209h5M191 210h3M191 211h3M191 212h4M190 213h3M190 214h1M192 214h2M192 215h3M192 216h2M191 217h2M190 219h3M191 220h3M192 221h3M191 222h3M190 223h1M193 223h2M191 224h3M190 226h2M193 227h2M191 228h3M191 229h4M190 230h2M189 231h3M189 232h3M189 233h6M190 234h2M190 235h2M191 236h2M191 237h4M191 238h2M192 239h3M191 240h3M194 241h1M193 242h2M192 244h3M192 245h2M191 247h2M193 249h2M194 250h1M193 251h1M191 252h5M192 253h1M192 255h2M192 257h2M190 258h1M192 259h2M192 260h3M190 261h2M191 262h1M189 263h4M191 265h4M190 266h4M191 267h1M190 268h4M191 269h3M191 270h1M191 271h3M190 272h1M190 273h1M192 273h3M191 274h1M192 275h1M191 276h2M190 277h5M192 278h2M190 279h5M190 280h4M193 281h1M189 282h4M192 283h2M193 285h1M192 286h1M191 287h2M191 288h1M190 289h4M190 290h3M190 291h4M190 292h4M190 293h4M191 294h4M191 295h4M192 296h2M190 297h3M191 298h4M189 299h4M192 300h1M194 300h1M194 301h1M191 302h4M189 303h6M191 304h4M191 305h4M190 306h5M193 307h1M193 308h2M190 309h4M190 310h4M190 311h4M191 312h1M194 312h1M191 313h3M190 314h3M190 315h4M191 316h2M192 317h3M192 319h2M192 320h1M192 321h2M195 321h1M192 322h3M191 323h3M192 324h1M191 325h3M192 326h2M191 327h3M191 329h2M191 330h1M191 331h3M190 332h4M191 333h4M191 334h3M190 335h4M190 336h2M191 338h3M194 339h2M190 340h1M190 341h1M192 341h2M190 342h4M193 343h2M190 344h5M191 345h5M192 346h2M192 347h3M190 348h5M191 349h4M191 350h2M194 350h1M191 351h4M191 352h3M193 353h1M192 354h3M190 355h5M192 356h2M191 357h3M189 358h5M192 359h2M190 360h1M192 360h4M192 361h3M193 362h3M191 363h4M192 364h3M191 365h3M192 366h2M192 367h3M190 368h4M191 370h3M191 371h3M191 372h2M191 373h2M191 374h1M191 375h3M190 376h4M191 377h1M192 378h3M194 379h1M192 380h2M192 381h2M192 382h2M189 383h5M192 384h2M191 385h2M192 386h2M192 387h2M192 388h4M191 389h3M190 390h3M191 391h5M192 392h3M191 394h1M191 395h4M191 396h2M191 397h2M192 398h2M191 399h4M190 400h4M191 401h3M192 402h2M192 403h1M191 404h2M190 405h1M194 405h1M191 406h2M190 407h1M191 408h2M191 409h3M191 410h5M190 411h3M191 412h1M189 413h3M190 415h3M191 416h2M192 417h2M189 419h4M190 420h1M192 420h2M190 421h4M191 422h3M190 423h5M191 424h3M190 425h3M192 426h3M192 427h3M192 428h2M190 429h5M191 430h4M190 431h4M191 432h3"/>
<path stroke="#caff2c" d="M193 62h2M193 64h1M192 118h1M194 128h2M192 130h1M192 146h1M191 150h1M192 153h1M192 176h1M193 178h1M191 180h1M192 192h2M192 193h1M192 206h1M191 207h2M192 228h1M193 239h1M192 266h1M192 271h1M191 279h2M191 292h1M193 304h1M192 305h1M193 309h1M192 310h1M192 331h1M192 332h1M193 333h1M193 345h1M192 347h2M193 348h1M192 349h2M192 358h1M192 368h1M190 376h3M192 383h1M191 400h2M193 429h1"/>
<path stroke="#feed00" d="M191 376h1"/>
</g>
<rect x="499" y="54" width="1.5" height="379" fill="#00a1ff"/>
<path shape-rendering="crispEdges" stroke="#00a1ff" stroke-width="1" transform="translate(0,0.5)" d="M501 57h1M501 94h1M501 101h1M501 102h1M501 106h1M501 107h1M501 112h1M501 113h1M501 114h1M501 117h1M501 119h1M501 120h1M501 123h1M501 125h1M501 126h1M501 127h1M501 128h1M501 132h1M501 134h1M501 141h1M501 142h1M501 144h1M501 152h1M501 154h1M501 159h1M501 174h1M501 196h1M501 225h1M501 269h1M501 273h1M501 294h1M501 299h1M501 300h1M501 324h1M501 325h1M501 332h1M501 334h1M501 338h1M501 341h1M501 342h1M501 354h1M501 356h1M501 357h1M501 363h1M501 364h1M501 370h1M501 371h1M501 383h1M501 387h1M501 402h1M501 411h1M501 419h1M501 421h1M501 432h1"/>
<path d="M132.5 53.50V433.50M224.5 53.50V433.50M316.5 53.50V433.50M408.5 53.50V433.50M500.5 53.50V433.50M86.50 62.5H546.50M86.50 145.5H546.50M86.50 229.5H546.50M86.50 312.5H546.50M86.50 395.5H546.50" stroke="#b0b0b0" stroke-width="1.111" fill="none"/>
<path d="M132.5 433.50v5M224.5 433.50v5M316.5 433.50v5M408.5 433.50v5M500.5 433.50v5M86.50 62.5h-5M86.50 145.5h-5M86.50 229.5h-5M86.50 312.5h-5M86.50 395.5h-5M588.50 433.5h5M588.50 385.5h5M588.50 338.5h5M588.50 290.5h5M588.50 243.5h5M588.50 195.5h5M588.50 148.5h5M588.50 101.5h5M588.50 53.5h5" stroke="#000" stroke-width="1.111" fill="none"/>
<g shape-rendering="crispEdges"><rect x="570" y="409" width="18" height="24" fill="#0000a4"/><rect x="570" y="385" width="18" height="24" fill="#0000ed"/><rect x="570" y="361" width="18" height="24" fill="#0021ff"/><rect x="570" y="338" width="18" height="23" fill="#0061ff"/><rect x="570" y="314" width="18" height="24" fill="#00a1ff"/><rect x="570" y="290" width="18" height="24" fill="#00e1fb"/><rect x="570" y="267" width="18" height="23" fill="#30ffc7"/><rect x="570" y="243" width="18" height="24" fill="#63ff94"/><rect x="570" y="219" width="18" height="24" fill="#97ff60"/><rect x="570" y="195" width="18" height="24" fill="#caff2c"/><rect x="570" y="172" width="18" height="23" fill="#feed00"/><rect x="570" y="148" width="18" height="24" fill="#ffb200"/><rect x="570" y="124" width="18" height="24" fill="#ff7700"/><rect x="570" y="101" width="18" height="23" fill="#ff3b00"/><rect x="570" y="77" width="18" height="24" fill="#e80000"/><rect x="570" y="54" width="18" height="23" fill="#9f0000"/></g>
<rect x="86.50" y="53.50" width="460.00" height="380.00" fill="none" stroke="#000" stroke-width="1.111"/>
<rect x="569.50" y="53.50" width="19.00" height="380.00" fill="none" stroke="#000" stroke-width="1.111"/>
<g font-family="'DejaVu Sans', 'Liberation Sans', sans-serif" fill="#000">
<text font-size="13.889px" x="115.09 122.91 131.73 140.56" y="453">1260</text>
<text font-size="13.889px" x="207.09 214.91 223.48 232.31" y="453">1270</text>
<text font-size="13.889px" x="299.09 306.91 315.73 324.56" y="453">1280</text>
<text font-size="13.889px" x="391.09 398.91 407.73 416.56" y="453">1290</text>
<text font-size="13.889px" x="483.09 490.91 499.48 508.31" y="453">1300</text>
<text font-size="13.889px" x="257.91 265.12 270.51 279.06 287.86 296.41 305.19 313.98 321.61 329.33 334.23 339.66 351.62 362.05 369.34" y="473">Frequency (MHz)</text>
<text font-size="13.889px" transform="translate(13.52 243.43) rotate(-90)" x="-100.63 -92.33 -88.48 -74.97 -66.42 -62.02 -56.86 -48.05 -39.52 -31.87 -23.39 -14.59 -5.8 1.69 5.84 9.7 18.5 23.94 32.67 36.84 47.34 55.95 65.02 69.17 77.98 86.73 94.94" y="0">Time [Seconds into GPS day]</text>
<text font-size="13.889px" transform="translate(630.72 244.43) rotate(-90)" x="-8.66 -0.62" y="0">dB</text>
<text font-size="13.889px" x="24.97 32.78 41.61 50.19 59.02 67.85" y="67">400000</text>
<text font-size="13.889px" x="23.97 31.78 40.61 49.19 58.02 66.85" y="151">380000</text>
<text font-size="13.889px" x="23.97 31.78 40.61 49.19 58.02 66.85" y="234">360000</text>
<text font-size="13.889px" x="23.97 31.78 40.61 49.19 58.02 66.85" y="317">340000</text>
<text font-size="13.889px" x="23.97 31.78 40.61 49.19 58.02 66.85" y="401">320000</text>
<text font-size="13.889px" x="596.91 605.72" y="438">25</text>
<text font-size="13.889px" x="596.91 604.72" y="391">30</text>
<text font-size="13.889px" x="596.91 604.72" y="343">35</text>
<text font-size="13.889px" x="597.91 605.72" y="296">40</text>
<text font-size="13.889px" x="597.91 605.72" y="248">45</text>
<text font-size="13.889px" x="596.91 604.72" y="201">50</text>
<text font-size="13.889px" x="596.91 604.72" y="153">55</text>
<text font-size="13.889px" x="596.91 605.72" y="106">60</text>
<text font-size="13.889px" x="596.91 605.72" y="59">65</text>
<text font-size="16.750px" x="145.99 156.26 166.1 171.9 177.41 183.21 193.62 203.48 213.55 219.35 229.69 240.54 250.88 256.18 266.52 272.07 280.76 291.01 299.91 308.59 313.88 319.9 325.18 335.79 341.07 351.43 362.02 372.62 383.21 393.82 404.66 409.46 420.02 424.4 435.71 440.26 453.88 458.51 469.34 475.62" y="45">E6 - Avg 120.0 secs - 0.024414 bin width</text>
<text font-size="16.800px" x="267.04 276.3 287.72 298.33 308.68 317 327.21 332.08 336.21 341.75 351.93 362.54" y="18">EB79_all.T04</text>
</g>
</svg>
</body>
</html>
